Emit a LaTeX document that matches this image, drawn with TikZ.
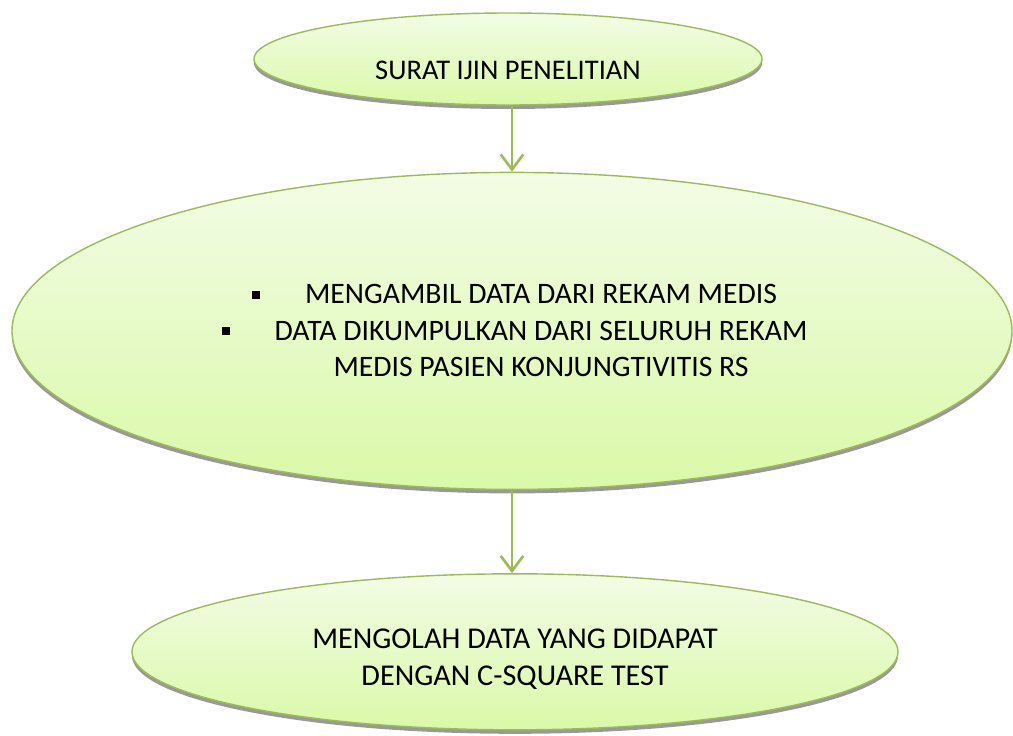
\documentclass[tikz,border=0pt]{standalone}
\usepackage{fontspec}
\setmainfont{Carlito}
\usetikzlibrary{shapes.geometric, arrows.meta, positioning, shadows}
\definecolor{grn1}{RGB}{155,187,89}
\definecolor{lit1}{RGB}{243,252,230}
\definecolor{lit2}{RGB}{218,249,168}
\tikzstyle{oval} = [ellipse, draw=grn1, line width=0.8pt, top color=lit1, bottom color=lit2,
    inner sep=0pt, align=center, font=\fontsize{16.2}{20.5}\selectfont,
    drop shadow={shadow xshift=0pt, shadow yshift=-0.08cm, fill=gray!80, opacity=1}]
\tikzstyle{arrow} = [grn1, line width=1.5pt, -{Straight Barb[length=0.3cm, width=0.45cm, line width=1.5pt]}]
\newcommand{\bx}{\raisebox{3pt}{\rule{4.6pt}{4.6pt}}}
\newcommand{\itm}{\hspace*{1.16cm}\llap{\bx\hspace{0.9cm}}}

\begin{document}
\begin{tikzpicture}
    \useasboundingbox (0,0) rectangle (20.26,-14.72);
    % Ovals
    \node (izin) [oval, minimum width=10.16cm, minimum height=1.84cm] at (10.16,-1.18)
        {\raisebox{0pt}[0.8cm][0pt]{SURAT IJIN PENELITIAN}};
    \node (ambil) [oval, minimum width=20cm, minimum height=6.34cm, below=1.32cm of izin, xshift=0.08cm,
        font=\fontsize{16.9}{20.8}\selectfont]
        {\itm MENGAMBIL DATA DARI REKAM MEDIS\\
         \itm DATA DIKUMPULKAN DARI SELURUH REKAM\\
         \hspace*{1.16cm}MEDIS PASIEN KONJUNGTIVITIS RS};
    \node (olah) [oval, minimum width=15.32cm, minimum height=3.12cm, below=1.66cm of ambil, xshift=0.06cm,
        font=\fontsize{17.2}{21}\selectfont]
        {\rule{0pt}{0.68cm}MENGOLAH DATA YANG DIDAPAT\\ DENGAN C-SQUARE TEST};

    % Arrows
    \draw [arrow] (ambil.north |- izin.south) -- (ambil.north);
    \draw [arrow] (ambil.south) -- (ambil.south |- olah.north);
\end{tikzpicture}
\end{document}
